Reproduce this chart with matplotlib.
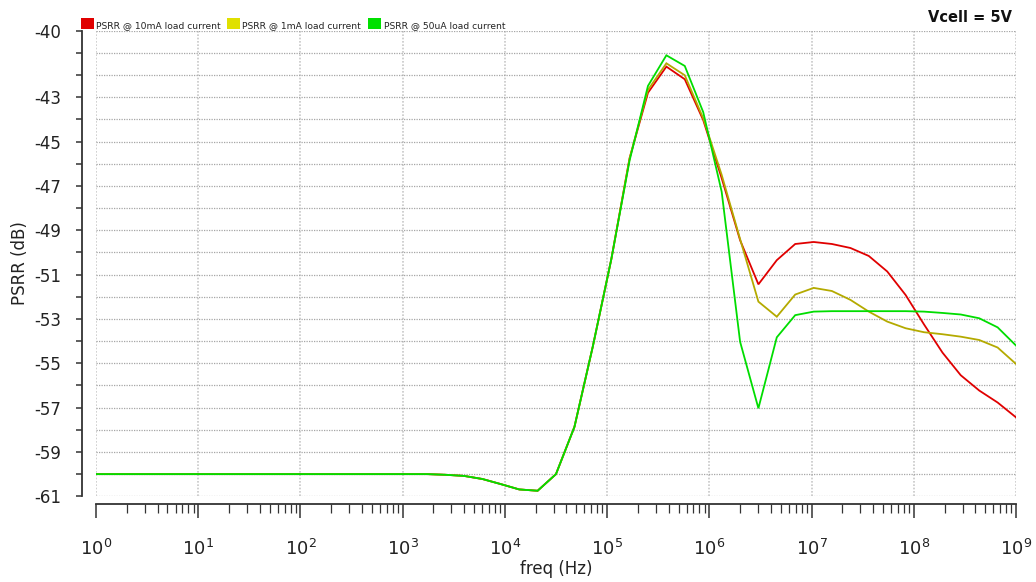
import math
import matplotlib
matplotlib.use("Agg")
import matplotlib.pyplot as plt
from matplotlib.patches import Rectangle
from matplotlib.ticker import FixedLocator, FuncFormatter, LogLocator, NullFormatter

# Frequency sweep (Hz), 51 log-spaced points from 1 Hz to 1 GHz
freq = [1.0, 1.51, 2.29, 3.47, 5.25, 7.94, 12.0, 18.2, 27.5, 41.7, 63.1, 95.5,
        145, 219, 331, 501, 759, 1.15e3, 1.74e3, 2.63e3, 3.98e3, 6.03e3, 9.12e3,
        1.38e4, 2.09e4, 3.16e4, 4.79e4, 7.24e4, 1.10e5, 1.66e5, 2.51e5, 3.80e5,
        5.75e5, 8.71e5, 1.32e6, 2.00e6, 3.02e6, 4.57e6, 6.92e6, 1.05e7, 1.58e7,
        2.40e7, 3.63e7, 5.50e7, 8.32e7, 1.26e8, 1.91e8, 2.88e8, 4.37e8, 6.61e8,
        1.00e9]

# PSRR (dB) for each load current
psrr_10mA = [-60.00, -60.00, -60.00, -60.00, -60.00, -60.00, -60.00, -60.00, -60.00,
             -60.00, -60.00, -60.00, -60.00, -60.00, -60.00, -60.00, -60.00, -60.00,
             -60.00, -60.03, -60.08, -60.22, -60.45, -60.69, -60.75, -60.00, -57.87,
             -54.25, -50.30, -45.75, -42.80, -41.62, -42.19, -44.03, -46.65, -49.45,
             -51.44, -50.35, -49.62, -49.53, -49.62, -49.80, -50.16, -50.86, -51.92,
             -53.25, -54.52, -55.54, -56.23, -56.77, -57.44]
psrr_1mA = [-60.00, -60.00, -60.00, -60.00, -60.00, -60.00, -60.00, -60.00, -60.00,
            -60.00, -60.00, -60.00, -60.00, -60.00, -60.00, -60.00, -60.00, -60.00,
            -60.00, -60.03, -60.08, -60.22, -60.45, -60.69, -60.75, -60.00, -57.87,
            -54.25, -50.30, -45.75, -42.67, -41.47, -42.01, -43.95, -46.50, -49.40,
            -52.22, -52.90, -51.90, -51.60, -51.74, -52.14, -52.67, -53.12, -53.42,
            -53.60, -53.69, -53.80, -53.95, -54.29, -55.03]
psrr_50uA = [-60.00, -60.00, -60.00, -60.00, -60.00, -60.00, -60.00, -60.00, -60.00,
             -60.00, -60.00, -60.00, -60.00, -60.00, -60.00, -60.00, -60.00, -60.00,
             -60.00, -60.03, -60.08, -60.22, -60.45, -60.69, -60.75, -60.00, -57.87,
             -54.25, -50.30, -45.85, -42.49, -41.11, -41.59, -43.67, -47.26, -54.03,
             -57.03, -53.83, -52.83, -52.67, -52.65, -52.65, -52.65, -52.65, -52.65,
             -52.67, -52.73, -52.80, -52.97, -53.38, -54.20]

series_labels = ["PSRR @ 10mA load current", "PSRR @ 1mA load current",
                 "PSRR @ 50uA load current"]
line_colors = ["#e00000", "#b4aa00", "#00dd00"]
legend_colors = ["#e00000", "#e0e000", "#00e000"]

y_grid_values = list(range(-61, -39))
y_label_values = [-40, -43, -45, -47, -49, -51, -53, -55, -57, -59, -61]
x_decades = list(range(0, 10))

W, H = 1036, 582
fig = plt.figure(figsize=(W / 100, H / 100), dpi=100)
fig.patch.set_facecolor("white")

def fx(px):
    return px / W

def fy(py):
    return 1 - py / H

ax = fig.add_axes([fx(96), fy(496.3), fx(1016) - fx(96), fy(30.7) - fy(496.3)])

for vals, col in zip([psrr_10mA, psrr_1mA, psrr_50uA], line_colors):
    ax.plot(freq, vals, color=col, lw=1.3, solid_joinstyle="miter")

ax.set_xscale("log")
ax.set_xlim(1, 1e9)
ax.set_ylim(-61, -40)

# axes frame: detached left and bottom spines only
for s in ["top", "right"]:
    ax.spines[s].set_visible(False)
ax.spines["left"].set_position(("outward", 10))
ax.spines["bottom"].set_position(("outward", 5.5))
for s in ["left", "bottom"]:
    ax.spines[s].set_color("#333333")
    ax.spines[s].set_linewidth(1.3)

ax.yaxis.set_major_locator(FixedLocator(y_grid_values))
ax.yaxis.set_major_formatter(
    FuncFormatter(lambda v, p: f"{int(round(v))}" if int(round(v)) in y_label_values else ""))
ax.tick_params(axis="y", which="major", direction="out", length=4.5, width=1.1,
               color="#333333", labelsize=12, labelcolor="#222222", pad=10.5)

ax.xaxis.set_major_locator(FixedLocator([10.0 ** d for d in x_decades]))
ax.xaxis.set_major_formatter(
    FuncFormatter(lambda v, p: f"$10^{{{int(round(math.log10(v)))}}}$"))
ax.xaxis.set_minor_locator(LogLocator(base=10, subs=range(2, 10), numticks=100))
ax.xaxis.set_minor_formatter(NullFormatter())
ax.tick_params(axis="x", which="major", direction="out", length=10, width=1.1,
               color="#333333", labelsize=13, labelcolor="#222222", pad=15)
ax.tick_params(axis="x", which="minor", direction="out", length=6.5, width=0.9,
               color="#333333")

ax.xaxis.grid(True, which="major", color="#c8c8c8", lw=1.2, ls=(0, (1, 1)))
ax.yaxis.grid(True, which="major", color="#a6a6a6", lw=0.9, ls=(0, (1, 1)))
ax.set_axisbelow(True)

ax.set_xlabel("freq (Hz)", fontsize=12, color="#222222")
ax.xaxis.set_label_coords(0.5, -0.137)
ax.set_ylabel("PSRR (dB)", fontsize=12, color="#222222")
ax.yaxis.set_label_coords(-0.073, 0.5)

# legend row above the plot
legend_x = [81, 227, 368]
for x0, lab, col in zip(legend_x, series_labels, legend_colors):
    fig.patches.append(Rectangle((fx(x0), fy(29.0)), fx(12.5), fy(18.3) - fy(29.0),
                                 transform=fig.transFigure, facecolor=col,
                                 edgecolor="none"))
    fig.text(fx(x0 + 15.5), fy(28.3), lab, fontsize=6.6, color="#222222",
             ha="left", va="baseline")

fig.text(fx(1012), fy(22.3), "Vcell = 5V", fontsize=10.5, fontweight="bold",
         color="#111111", ha="right", va="baseline")

fig.savefig("out.png", dpi=100)
